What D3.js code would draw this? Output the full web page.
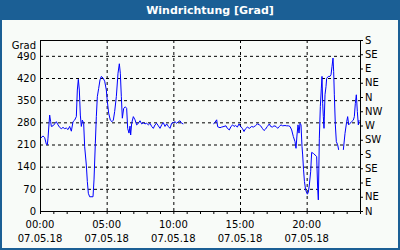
<!DOCTYPE html>
<html>
<head>
<meta charset="utf-8">
<title>Windrichtung</title>
<script src="https://d3js.org/d3.v7.min.js"></script>
<style>
    body { margin: 0; background: #fff; }
    text { font-family: "DejaVu Sans", sans-serif; font-size: 10px; fill: #000; }
    .title { font-size: 11px; font-weight: bold; fill: #fff; }
    .grid line { stroke: #000; stroke-dasharray: 3,3; }
    .grid .domain { display: none; }
</style>
</head>
<body>
<div id="chart"></div>
<script>
    // minutes since 00:00 on 07.05.18, null = no data
    const minutes = [
        3, 13.5, 21, 28.5, 33, 36, 43.5, 48, 51, 58.5, 66, 73.5, 81, 88.5, 96, 103.5, 111, 118.5, 126, 133.5,
        141, 148.5, 156, 163.5, 168, 172.5, 177, 181.5, 186, 190.5, 196.5, 201, 208.5, 213, 217.5, 223.5, 238.5, 243, 249, 253.5,
        258, 264, 270, 276, 283.5, 291, 298.5, 303, 309, 316.5, 324, 330, 336, 343.5, 351, 357, 361.5, 366, 370.5, 376.5,
        384, 390, 394.5, 400.5, 405, 408, 412.5, 420, 427.5, 435, 442.5, 450, 457.5, 465, 472.5, 480, 487.5, 495, 502.5, 510,
        517.5, 525, 532.5, 540, 547.5, 555, 562.5, 570, 577.5, 585, 592.5, 600, 607.5, 615, 622.5, 630, 637.5, 645,
        null,
        780, 787.5, 795, 799.5, 810, 817.5, 828, 837, 843, 852, 859.5, 867, 873, 880.5, 888, 895.5, 903, 910.5, 918, 924,
        933, 942, 952.5, 960, 969, 978, 987, 993, 1000.5, 1008, 1015.5, 1023, 1032, 1038, 1045.5, 1053, 1062, 1069.5, 1077, 1084.5,
        1092, 1102.5, 1110, 1117.5, 1125, 1132.5, 1140, 1147.5, 1152, 1156.5, 1161, 1165.5, 1170, 1174.5, 1179, 1182, 1186, 1190, 1195.5, 1203,
        1207.5, 1212, 1218, 1222.5, 1230, 1237.5, 1245, 1249.5, 1252.5, 1257, 1261.5, 1266, 1269, 1272, 1275, 1278, 1282.5, 1287, 1290, 1297.5,
        1305, 1309.5, 1314, 1318.5, 1321.5, 1324.5, 1329, 1333.5, 1339.5, 1344,
        null,
        1365, 1372.5, 1380, 1384.5, 1389, 1395, 1402.5, 1410, 1414.5, 1419, 1423.5, 1428, 1432.5, 1435.5
    ];
    const grad = [
        230, 237, 232, 211, 209, 230, 303, 282, 267, 269, 275, 282, 272, 264, 260, 264, 260, 262, 257, 267,
        252, 282, 287, 298, 382, 416, 382, 303, 267, 287, 277, 203, 145, 93, 56, 45, 45, 98, 214, 298,
        361, 387, 414, 425, 420, 410, 382, 346, 309, 287, 282, 287, 314, 361, 435, 465, 435, 361, 293, 324,
        329, 324, 261, 246, 268, 240, 277, 298, 288, 272, 277, 285, 275, 279, 275, 277, 272, 277, 267, 261,
        272, 277, 269, 261, 272, 279, 267, 275, 267, 261, 277, 279, 282, 277, 282, 285, 277, 275,
        null,
        275, 280, 288, 266, 263, 265, 267, 269, 261, 256, 267, 272, 267, 270, 265, 275, 267, 261, 251, 259,
        265, 261, 267, 265, 269, 275, 272, 269, 261, 254, 259, 267, 275, 267, 265, 269, 267, 261, 267, 272,
        269, 270, 269, 269, 267, 256, 235, 219, 198, 240, 272, 246, 277, 272, 203, 177, 130, 93, 66, 53,
        59, 82, 124, 185, 182, 177, 172, 72, 35, 230, 330, 388, 425, 340, 298, 261, 367, 393, 419, 425,
        425, 430, 456, 483, 440, 367, 272, 219, 209, 193,
        null,
        193, 245, 282, 298, 272, 277, 282, 287, 298, 340, 367, 314, 272, 287
    ];

    const titleText = "Windrichtung [Grad]";
    const unitLabel = "Grad";
    const dateLabel = "07.05.18";
    const timeTicks = [0, 5, 10, 15, 20];            // hours with labels + grid
    const gradTicks = [0, 70, 140, 210, 280, 350, 420, 490];
    const compassTicks = [0, 45, 90, 135, 180, 225, 270, 315, 360, 405, 450, 495, 540];
    const compassLabels = ["N", "NE", "E", "SE", "S", "SW", "W", "NW", "N", "NE", "E", "SE", "S"];

    const W = 400, H = 250;
    const margin = { top: 40, right: 40, bottom: 39, left: 40 };
    const width = W - margin.left - margin.right;
    const height = H - margin.top - margin.bottom;

    const day = new Date(2018, 4, 7, 0, 0);
    const toDate = m => new Date(day.getTime() + m * 60000);

    const data = minutes.map((m, i) => ({ t: m === null ? null : toDate(m), v: grad[i] }));

    const svg = d3.select("#chart").append("svg")
        .attr("width", W)
        .attr("height", H);

    // frame + title bar
    svg.append("rect")
        .attr("x", 0).attr("y", 0).attr("width", W).attr("height", H)
        .attr("fill", "#1b5f95");
    svg.append("rect")
        .attr("x", 2).attr("y", 20).attr("width", W - 4).attr("height", H - 22)
        .attr("fill", "#f8fbf8");
    svg.append("text")
        .attr("class", "title")
        .attr("x", 210).attr("y", 14)
        .attr("text-anchor", "middle")
        .text(titleText);

    const g = svg.append("g")
        .attr("transform", `translate(${margin.left},${margin.top})`);

    const x = d3.scaleTime()
        .domain([day, toDate(1440)])
        .range([0, width]);

    const y = d3.scaleLinear()
        .domain([0, 540])
        .range([height, 0]);

    // grid
    g.append("g")
        .attr("class", "grid")
        .call(d3.axisLeft(y).tickValues(gradTicks.slice(1)).tickSize(-width).tickFormat(""));
    g.append("g")
        .attr("class", "grid")
        .attr("transform", `translate(0,${height})`)
        .call(d3.axisBottom(x).tickValues(timeTicks.slice(1).map(h => toDate(h * 60))).tickSize(height).tickFormat(""))
        .attr("transform", `translate(0,0)`);

    // hourly ticks on the bottom axis
    g.append("g")
        .attr("transform", `translate(0,${height})`)
        .call(d3.axisBottom(x).ticks(d3.timeHour.every(1)).tickSize(3).tickFormat(""))
        .call(a => a.select(".domain").remove())
        .selectAll("line").attr("stroke", "#000");

    // left labels
    g.append("g")
        .call(d3.axisLeft(y).tickValues(gradTicks).tickSize(0).tickPadding(4))
        .call(a => a.select(".domain").remove())
        .selectAll("text")
        .style("font-family", "DejaVu Sans").style("font-size", "10px");

    g.append("text")
        .attr("x", -4).attr("y", 6)
        .attr("dy", "0.32em")
        .attr("text-anchor", "end")
        .text(unitLabel);

    // right compass axis
    g.append("g")
        .attr("transform", `translate(${width},0)`)
        .call(d3.axisRight(y).tickValues(compassTicks).tickSize(3).tickPadding(2)
            .tickFormat((d, i) => compassLabels[i]))
        .call(a => a.select(".domain").remove())
        .call(a => a.selectAll("line").attr("stroke", "#000"))
        .selectAll("text")
        .style("font-family", "DejaVu Sans").style("font-size", "10px");

    // time labels
    const lab = g.append("g")
        .selectAll("g")
        .data(timeTicks)
        .join("g")
        .attr("transform", h => `translate(${x(toDate(h * 60))},${height})`);
    lab.append("text")
        .attr("y", 14).attr("dy", "0.32em")
        .attr("text-anchor", "middle")
        .text(h => d3.timeFormat("%H:%M")(toDate(h * 60)));
    lab.append("text")
        .attr("y", 28).attr("dy", "0.32em")
        .attr("text-anchor", "middle")
        .text(dateLabel);

    // data line
    const line = d3.line()
        .defined(d => d.t !== null && d.v !== null)
        .x(d => x(d.t))
        .y(d => y(d.v));

    g.append("path")
        .datum(data)
        .attr("fill", "none")
        .attr("stroke", "#0000ff")
        .attr("stroke-width", 1)
        .attr("d", line);

    // plot box
    g.append("rect")
        .attr("x", 0).attr("y", 0)
        .attr("width", width).attr("height", height)
        .attr("fill", "none")
        .attr("stroke", "#000")
        .attr("shape-rendering", "crispEdges");
</script>
</body>
</html>
